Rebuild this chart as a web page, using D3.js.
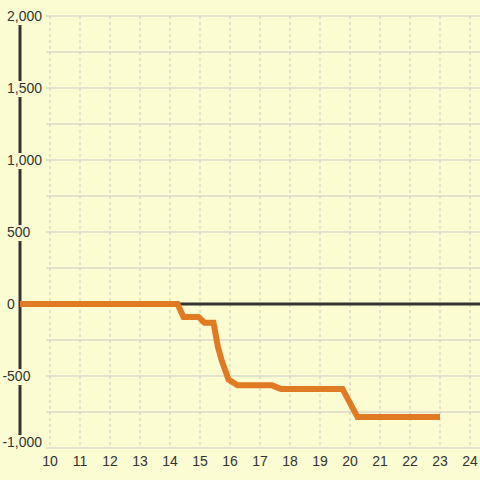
<!DOCTYPE html>
<html>
<head>
<meta charset="utf-8">
<script src="https://cdn.jsdelivr.net/npm/d3@7"></script>
<style>
  body { margin: 0; background: #fcfcd3; }
  svg { display: block; font-family: "Liberation Sans", Arial, sans-serif; }
</style>
</head>
<body>
<div id="chart"></div>
<script>
// the data
const hours = [9, 14.25, 14.45, 14.95, 15.15, 15.45, 15.6, 15.72, 15.95, 16.25, 17.4, 17.7, 19.75, 20.25, 23];
const values = [0, 0, -90, -90, -130, -130, -300, -390, -525, -565, -565, -590, -590, -785, -785];
const xTicks = [10, 11, 12, 13, 14, 15, 16, 17, 18, 19, 20, 21, 22, 23, 24];
const yLabelTicks = [-1000, -500, 0, 500, 1000, 1500, 2000];
const yGridTicks = d3.range(-1000, 2001, 250);

const width = 480, height = 480;

const x = d3.scaleLinear().domain([9, 9 + 460 / 30]).range([20, 480]);
const y = d3.scaleLinear().domain([-1000, 2000]).range([448, 16]);

const fmt = d3.formatLocale({decimal: ".", thousands: ",", grouping: [3], currency: ["", ""], minus: "-"}).format(",");

const svg = d3.select('#chart')
  .append('svg')
  .attr('width', width)
  .attr('height', height);

svg.append('rect')
  .attr('width', width)
  .attr('height', height)
  .attr('fill', '#fcfcd3');

// horizontal grid
svg.append('g')
  .selectAll('line')
  .data(yGridTicks)
  .join('line')
  .attr('x1', 46)
  .attr('x2', width)
  .attr('y1', d => y(d))
  .attr('y2', d => y(d))
  .attr('stroke', '#c8c8c8')
  .attr('stroke-width', 1);

// vertical dashed grid
svg.append('g')
  .selectAll('line')
  .data(xTicks)
  .join('line')
  .attr('x1', d => x(d))
  .attr('x2', d => x(d))
  .attr('y1', y(2000))
  .attr('y2', y(-1000))
  .attr('stroke', '#c8c8c8')
  .attr('stroke-width', 1)
  .attr('stroke-dasharray', '3,3');

// zero line
svg.append('line')
  .attr('x1', x(9))
  .attr('x2', width)
  .attr('y1', y(0))
  .attr('y2', y(0))
  .attr('stroke', '#333')
  .attr('stroke-width', 3);

// y axis line
svg.append('line')
  .attr('x1', x(9))
  .attr('x2', x(9))
  .attr('y1', y(2000))
  .attr('y2', y(-1000))
  .attr('stroke', '#333')
  .attr('stroke-width', 3);

// the series
const line = d3.line()
  .x((d, i) => x(hours[i]))
  .y(d => y(d));

svg.append('path')
  .attr('d', line(values))
  .attr('fill', 'none')
  .attr('stroke', '#e07b24')
  .attr('stroke-width', 6);

// y labels with a background box over the axis
const yLab = svg.append('g')
  .selectAll('g')
  .data(yLabelTicks)
  .join('g')
  .attr('transform', d => `translate(7,${d === -1000 ? y(d) - 6 : y(d)})`);

yLab.append('rect').attr('fill', '#fcfcd3');

yLab.append('text')
  .attr('dx', d => d < 0 ? '-0.33em' : 0)
  .attr('dy', '0.36em')
  .attr('font-size', 14)
  .attr('fill', '#333')
  .text(d => fmt(d));

yLab.each(function () {
  const g = d3.select(this);
  const b = g.select('text').node().getBBox();
  g.select('rect')
    .attr('x', b.x - 1)
    .attr('y', b.y + 1)
    .attr('width', b.width + 2)
    .attr('height', b.height);
});

// x labels
svg.append('g')
  .selectAll('text')
  .data(xTicks)
  .join('text')
  .attr('x', d => x(d))
  .attr('y', 461)
  .attr('dy', '0.36em')
  .attr('text-anchor', 'middle')
  .attr('font-size', 14)
  .attr('fill', '#333')
  .text(d => d);
</script>
</body>
</html>
